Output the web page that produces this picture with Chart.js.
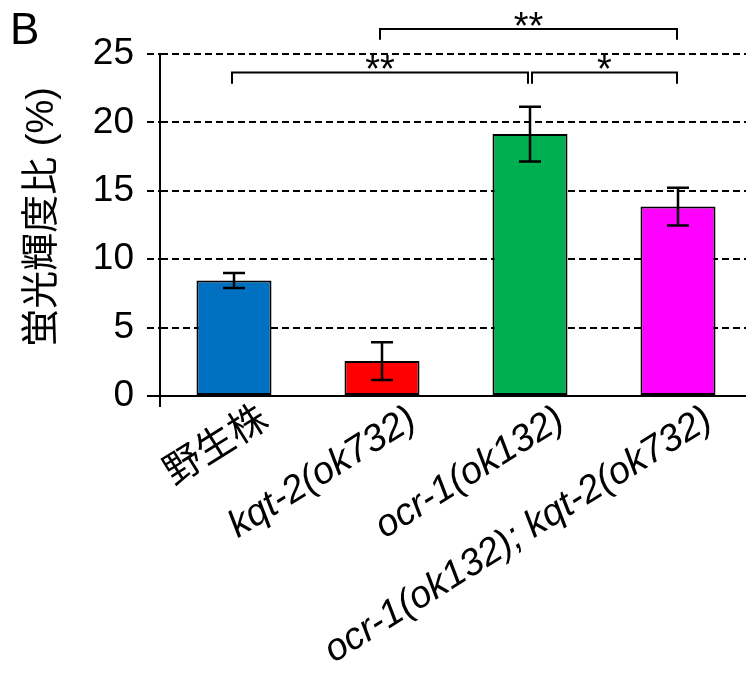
<!DOCTYPE html>
<html><head><meta charset="utf-8">
<script src="https://cdn.jsdelivr.net/npm/chart.js@4.4.1/dist/chart.umd.min.js"></script>
<style>
html,body{margin:0;padding:0;background:#fff;overflow:hidden;width:746px;height:675px}
#wrap{width:760px;height:675px}
</style></head>
<body><div id="wrap"><canvas id="c" width="760" height="675"></canvas></div>
<script>
const categories = ['野生株', 'kqt-2(ok732)', 'ocr-1(ok132)', 'ocr-1(ok132); kqt-2(ok732)'];
const meanValues = [8.45, 2.55, 19.15, 13.85];
const errorValues = [0.55, 1.38, 2.0, 1.38];
const barColors = ['#0070C0', '#FF0000', '#00B050', '#FF00FF'];
const yTickValues = [0, 5, 10, 15, 20, 25];
const bracketFrom = [0, 2, 1];
const bracketTo = [2, 3, 3];
const bracketMarks = ['**', '*', '**'];
const bracketLevels = [23.65, 23.65, 26.83];
const bracketLegEnds = [22.82, 22.82, 26.04];
const panelLabel = 'B';
const yTitle = '蛍光輝度比 (%)';

const FAM = '"Liberation Sans", Arial, "Noto Sans CJK JP", sans-serif';

const extras = {
  id: 'extras',
  afterDatasetsDraw(chart) {
    const ctx = chart.ctx, y = chart.scales.y;
    const meta = chart.getDatasetMeta(0);
    ctx.save();
    ctx.strokeStyle = '#000';
    ctx.lineWidth = 2.5;
    meta.data.forEach((bar, i) => {
      const x = bar.x;
      const yt = y.getPixelForValue(meanValues[i] + errorValues[i]);
      const yb = y.getPixelForValue(meanValues[i] - errorValues[i]);
      ctx.beginPath();
      ctx.moveTo(x, yt); ctx.lineTo(x, yb);
      ctx.moveTo(x - 11, yt); ctx.lineTo(x + 11, yt);
      ctx.moveTo(x - 11, yb); ctx.lineTo(x + 11, yb);
      ctx.stroke();
    });
    ctx.restore();
  },
  afterDraw(chart) {
    const ctx = chart.ctx, x = chart.scales.x, y = chart.scales.y;
    const area = chart.chartArea;
    ctx.save();
    ctx.strokeStyle = '#000';
    ctx.lineWidth = 2;
    ctx.beginPath();
    ctx.moveTo(area.left, area.bottom);
    ctx.lineTo(area.left, area.bottom + 11);
    ctx.stroke();
    ctx.lineWidth = 2;
    bracketFrom.forEach((f, k) => {
      const t = bracketTo[k];
      const x1 = x.getPixelForValue(f) + (f === 2 ? 2 : -2);
      const x2 = x.getPixelForValue(t) + (t === 2 ? -2 : -1);
      const yl = y.getPixelForValue(bracketLevels[k]);
      const ye = y.getPixelForValue(bracketLegEnds[k]);
      ctx.beginPath();
      ctx.moveTo(x1, ye); ctx.lineTo(x1, yl); ctx.lineTo(x2, yl); ctx.lineTo(x2, ye);
      ctx.stroke();
      ctx.fillStyle = '#000';
      ctx.font = '38px ' + FAM;
      ctx.textAlign = 'center';
      ctx.textBaseline = 'alphabetic';
      ctx.fillText(bracketMarks[k], (x1 + x2) / 2, yl + 10);
    });
    ctx.font = '44px ' + FAM;
    ctx.textAlign = 'left';
    ctx.textBaseline = 'alphabetic';
    ctx.fillText(panelLabel, 10, 44);
    ctx.translate(43, 217);
    ctx.rotate(-Math.PI / 2);
    ctx.font = '38px ' + FAM;
    ctx.textAlign = 'center';
    ctx.textBaseline = 'middle';
    ctx.fillText(yTitle, 0, 0);
    ctx.restore();
  }
};

new Chart(document.getElementById('c'), {
  type: 'bar',
  data: {
    labels: categories,
    datasets: [{
      data: meanValues,
      backgroundColor: barColors,
      borderColor: '#000',
      borderWidth: 2,
      borderSkipped: false,
      categoryPercentage: 1,
      barPercentage: 0.507
    }]
  },
  options: {
    responsive: false,
    animation: false,
    devicePixelRatio: 1,
    layout: { padding: { top: 54, right: 8, left: 0, bottom: 0 } },
    plugins: { legend: { display: false }, tooltip: { enabled: false } },
    scales: {
      x: {
        afterFit: s => { s.height = 279; },
        grid: { display: false, drawTicks: false },
        border: { display: true, color: '#000', width: 2 },
        ticks: {
          autoSkip: false,
          maxRotation: 32, minRotation: 32,
          labelOffset: 31,
          padding: 1,
          color: '#000',
          font: c => (c.index === 0
            ? { size: 38, family: FAM, style: 'normal' }
            : { size: 38, family: FAM, style: 'italic' })
        }
      },
      y: {
        min: 0, max: 25,
        afterFit: s => { s.width = 160; },
        afterBuildTicks: s => { s.ticks = yTickValues.map(v => ({ value: v })); },
        grid: {
          color: '#000', lineWidth: 2, tickLength: 13,
          tickColor: '#000', tickWidth: 2,
          tickBorderDash: c => (c.tick && c.tick.value === 0 ? [] : [7, 4])
        },
        border: { display: true, color: '#000', width: 2, dash: [7, 4] },
        ticks: { color: '#000', padding: 13, font: { size: 37, family: FAM } }
      }
    }
  },
  plugins: [extras]
});
</script>
</body></html>
